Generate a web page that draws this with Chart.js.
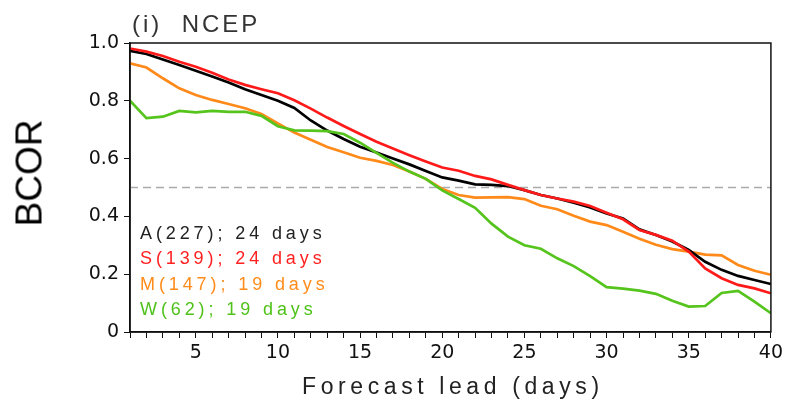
<!DOCTYPE html>
<html>
<head>
<meta charset="utf-8">
<script src="https://cdn.jsdelivr.net/npm/chart.js@4/dist/chart.umd.min.js"></script>
<style>
  html, body { margin: 0; padding: 0; background: #fff; }
  #wrap { position: relative; width: 787px; height: 407px; overflow: hidden; }
  canvas { position: absolute; left: 0; top: 0; }
  .txt { position: absolute; white-space: pre; font-family: "Liberation Sans", Arial, sans-serif; line-height: 1; }
  #panel { left: 132px; top: 12px; font-size: 24px; color: #333; letter-spacing: 3px; }
  #xtitle { left: 302px; top: 375px; font-size: 23px; color: #222; letter-spacing: 4.6px; }
  #ytitle { left: 28.5px; top: 172.5px; font-size: 37px; color: #000; transform: translate(-50%, -50%) rotate(-90deg); }
  #legend { left: 140px; top: 221px; font-size: 18px; line-height: 25.3px; letter-spacing: 3.9px; }
</style>
</head>
<body>
<div id="wrap">
  <canvas id="c" width="787" height="407"></canvas>
  <div class="txt" id="panel"></div>
  <div class="txt" id="xtitle"></div>
  <div class="txt" id="ytitle"></div>
  <div class="txt" id="legend"></div>
</div>
<script>
// ---- data ----
const days = [1,2,3,4,5,6,7,8,9,10,11,12,13,14,15,16,17,18,19,20,21,22,23,24,25,26,27,28,29,30,31,32,33,34,35,36,37,38,39,40];
const seriesA = [0.973,0.962,0.943,0.924,0.904,0.884,0.863,0.840,0.820,0.800,0.775,0.732,0.697,0.668,0.641,0.621,0.600,0.580,0.557,0.535,0.524,0.511,0.509,0.505,0.491,0.474,0.462,0.447,0.431,0.410,0.393,0.355,0.336,0.313,0.284,0.243,0.215,0.194,0.180,0.166];
const seriesS = [0.981,0.970,0.955,0.935,0.918,0.897,0.874,0.855,0.840,0.826,0.802,0.773,0.742,0.713,0.685,0.658,0.635,0.612,0.590,0.569,0.558,0.540,0.528,0.509,0.491,0.474,0.462,0.451,0.436,0.413,0.390,0.353,0.336,0.316,0.278,0.220,0.186,0.163,0.151,0.134];
const seriesM = [0.930,0.915,0.878,0.843,0.820,0.803,0.789,0.774,0.754,0.722,0.690,0.665,0.640,0.622,0.603,0.592,0.578,0.555,0.530,0.495,0.474,0.465,0.466,0.467,0.460,0.437,0.425,0.402,0.382,0.370,0.347,0.323,0.302,0.287,0.278,0.268,0.265,0.232,0.212,0.198];
const seriesW = [0.800,0.740,0.745,0.765,0.760,0.765,0.762,0.762,0.748,0.712,0.698,0.697,0.695,0.685,0.655,0.620,0.585,0.555,0.530,0.490,0.460,0.430,0.375,0.330,0.300,0.288,0.255,0.228,0.193,0.155,0.150,0.143,0.132,0.108,0.088,0.090,0.135,0.142,0.105,0.065];
const refLevel = 0.5;
const legendLabels = ["A(227); 24 days", "S(139); 24 days", "M(147); 19 days", "W(62); 19 days"];
const yTicks = [0, 0.2, 0.4, 0.6, 0.8, 1.0];
const xLabelTicks = [5, 10, 15, 20, 25, 30, 35, 40];
const panelTitle = "(i)  NCEP";
const xTitle = "Forecast lead (days)";
const yTitle = "BCOR";

// ---- styles ----
const colors = ["#000000", "#ff1a1a", "#ff8a1a", "#55c41c"];
const textColors = ["#222222", "#ff2020", "#ff8c1a", "#4fc21a"];

document.getElementById('panel').textContent = panelTitle;
document.getElementById('xtitle').textContent = xTitle;
document.getElementById('ytitle').textContent = yTitle;
const leg = document.getElementById('legend');
legendLabels.forEach((t, i) => {
  const d = document.createElement('div');
  d.textContent = t;
  d.style.color = textColors[i];
  leg.appendChild(d);
});

const toPts = arr => days.map((d, i) => ({ x: d, y: arr[i] }));

const frame = {
  id: 'frame',
  afterDatasetsDraw(chart) {
    const { ctx, chartArea: a } = chart;
    ctx.save();
    ctx.strokeStyle = '#111';
    ctx.lineWidth = 1.5;
    ctx.strokeRect(a.left, a.top, a.right - a.left, a.bottom - a.top);
    ctx.restore();
  }
};

new Chart(document.getElementById('c'), {
  type: 'line',
  data: {
    datasets: [
      { data: [{x: days[0], y: refLevel}, {x: days[days.length-1], y: refLevel}], borderColor: '#aaaaaa', borderWidth: 1.6, borderDash: [8, 5], pointRadius: 0, order: 10 },
      { data: toPts(seriesM), borderColor: colors[2], borderWidth: 2.7, pointRadius: 0, order: 4 },
      { data: toPts(seriesA), borderColor: colors[0], borderWidth: 2.7, pointRadius: 0, order: 3 },
      { data: toPts(seriesS), borderColor: colors[1], borderWidth: 2.7, pointRadius: 0, order: 2 },
      { data: toPts(seriesW), borderColor: colors[3], borderWidth: 2.7, pointRadius: 0, order: 1 }
    ]
  },
  options: {
    responsive: false,
    animation: false,
    layout: { padding: { top: 43, right: 16, left: 0, bottom: 0 } },
    plugins: { legend: { display: false }, tooltip: { enabled: false } },
    elements: { line: { tension: 0 } },
    scales: {
      x: {
        type: 'linear', min: 1, max: 40,
        afterFit(s) { s.height = 75; },
        afterBuildTicks(s) { s.ticks = days.map(v => ({ value: v })); },
        ticks: {
          autoSkip: false, maxRotation: 0, padding: 4,
          color: '#111', font: { family: 'DejaVu Sans', size: 19 },
          callback: v => xLabelTicks.includes(v) ? String(v) : ''
        },
        grid: { drawOnChartArea: false, tickLength: 6, color: '#111', lineWidth: 1 },
        border: { display: true, color: '#111', width: 1.5 }
      },
      y: {
        min: 0, max: 1,
        afterFit(s) { s.width = 130; },
        afterBuildTicks(s) { s.ticks = yTicks.map(v => ({ value: v })); },
        ticks: {
          padding: 5, color: '#111', font: { family: 'DejaVu Sans', size: 19 },
          callback: v => v === 0 ? '0' : v.toFixed(1)
        },
        grid: { drawOnChartArea: false, tickLength: 6, color: '#111', lineWidth: 1 },
        border: { display: true, color: '#111', width: 1.5 }
      }
    }
  },
  plugins: [frame]
});
</script>
</body>
</html>
